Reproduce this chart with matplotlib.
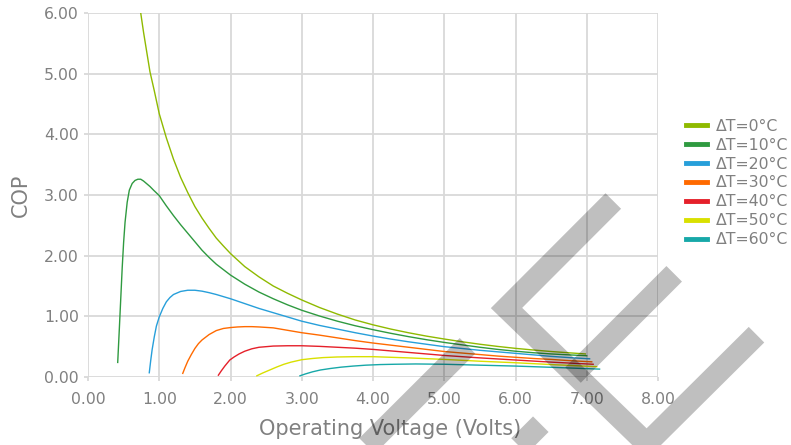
import matplotlib
matplotlib.use("Agg")
import matplotlib.pyplot as plt
from matplotlib.lines import Line2D

# ---- data ----
dt0_v = [0.74, 0.78, 0.82, 0.87, 0.93, 1.00, 1.10, 1.20, 1.30, 1.40, 1.50, 1.60, 1.70, 1.80, 1.90, 2.00, 2.20, 2.40, 2.60, 2.80, 3.00, 3.25, 3.50, 3.75, 4.00, 4.25, 4.50, 4.75, 5.00, 5.25, 5.50, 5.75, 6.00, 6.25, 6.50, 6.75, 6.98]
dt0_c = [6.00, 5.68, 5.39, 5.03, 4.72, 4.34, 3.94, 3.59, 3.29, 3.04, 2.81, 2.62, 2.45, 2.29, 2.16, 2.035, 1.82, 1.65, 1.50, 1.38, 1.27, 1.145, 1.037, 0.94, 0.86, 0.79, 0.729, 0.674, 0.626, 0.581, 0.54, 0.504, 0.472, 0.445, 0.42, 0.399, 0.38]

dt10_v = [0.417, 0.44, 0.46, 0.48, 0.50, 0.52, 0.55, 0.58, 0.62, 0.66, 0.70, 0.74, 0.78, 0.82, 0.87, 0.92, 1.00, 1.10, 1.20, 1.30, 1.40, 1.50, 1.60, 1.70, 1.80, 1.90, 2.00, 2.20, 2.40, 2.60, 2.80, 3.00, 3.25, 3.50, 3.75, 4.00, 4.25, 4.50, 4.75, 5.00, 5.25, 5.50, 5.75, 6.00, 6.25, 6.50, 6.75, 7.00]
dt10_c = [0.24, 0.80, 1.30, 1.80, 2.22, 2.55, 2.88, 3.08, 3.19, 3.24, 3.26, 3.26, 3.23, 3.19, 3.14, 3.08, 2.99, 2.82, 2.66, 2.51, 2.37, 2.23, 2.09, 1.97, 1.86, 1.77, 1.68, 1.53, 1.40, 1.29, 1.19, 1.10, 1.005, 0.92, 0.845, 0.78, 0.72, 0.665, 0.615, 0.57, 0.53, 0.49, 0.455, 0.425, 0.40, 0.38, 0.365, 0.35]

dt20_v = [0.86, 0.88, 0.90, 0.93, 0.96, 1.00, 1.05, 1.10, 1.15, 1.20, 1.30, 1.40, 1.50, 1.60, 1.70, 1.80, 2.00, 2.20, 2.40, 2.60, 2.80, 3.00, 3.25, 3.50, 3.75, 4.00, 4.25, 4.50, 4.75, 5.00, 5.25, 5.50, 5.75, 6.00, 6.25, 6.50, 6.75, 7.04]
dt20_c = [0.07, 0.27, 0.45, 0.66, 0.84, 0.99, 1.13, 1.24, 1.31, 1.36, 1.41, 1.43, 1.43, 1.415, 1.39, 1.36, 1.29, 1.21, 1.13, 1.06, 0.99, 0.92, 0.85, 0.79, 0.73, 0.675, 0.625, 0.58, 0.54, 0.50, 0.47, 0.44, 0.415, 0.39, 0.365, 0.34, 0.32, 0.30]

dt30_v = [1.33, 1.36, 1.40, 1.45, 1.50, 1.55, 1.60, 1.70, 1.80, 1.90, 2.00, 2.10, 2.20, 2.30, 2.40, 2.60, 2.80, 3.00, 3.25, 3.50, 3.75, 4.00, 4.25, 4.50, 4.75, 5.00, 5.25, 5.50, 5.75, 6.00, 6.25, 6.50, 6.75, 7.07]
dt30_c = [0.06, 0.15, 0.26, 0.37, 0.47, 0.55, 0.61, 0.70, 0.765, 0.80, 0.815, 0.825, 0.83, 0.83, 0.825, 0.81, 0.77, 0.73, 0.69, 0.645, 0.60, 0.56, 0.525, 0.49, 0.455, 0.42, 0.395, 0.37, 0.345, 0.325, 0.305, 0.29, 0.27, 0.25]

dt40_v = [1.83, 1.87, 1.92, 1.99, 2.05, 2.12, 2.20, 2.30, 2.40, 2.50, 2.60, 2.80, 3.00, 3.25, 3.50, 3.75, 4.00, 4.25, 4.50, 4.75, 5.00, 5.50, 6.00, 6.50, 7.09]
dt40_c = [0.03, 0.10, 0.18, 0.28, 0.33, 0.38, 0.425, 0.465, 0.49, 0.50, 0.51, 0.515, 0.515, 0.505, 0.49, 0.475, 0.455, 0.43, 0.405, 0.38, 0.355, 0.315, 0.28, 0.245, 0.21]

dt50_v = [2.37, 2.45, 2.55, 2.65, 2.75, 2.85, 3.00, 3.15, 3.30, 3.50, 3.75, 4.00, 4.25, 4.50, 5.00, 5.50, 6.00, 6.50, 7.14]
dt50_c = [0.02, 0.065, 0.115, 0.165, 0.21, 0.245, 0.285, 0.305, 0.32, 0.33, 0.335, 0.335, 0.325, 0.315, 0.29, 0.26, 0.235, 0.205, 0.17]

dt60_v = [2.975, 3.05, 3.15, 3.26, 3.40, 3.55, 3.72, 3.90, 4.10, 4.30, 4.60, 5.00, 5.50, 6.00, 6.50, 7.18]
dt60_c = [0.02, 0.05, 0.085, 0.115, 0.14, 0.162, 0.18, 0.195, 0.205, 0.21, 0.215, 0.21, 0.195, 0.18, 0.16, 0.13]

labels = ["ΔT=0°C", "ΔT=10°C", "ΔT=20°C", "ΔT=30°C", "ΔT=40°C", "ΔT=50°C", "ΔT=60°C"]
colors = ["#8fba00", "#2f9a40", "#279fda", "#ff6a00", "#e5202a", "#d9e000", "#17a8a8"]
series = [(dt0_v, dt0_c), (dt10_v, dt10_c), (dt20_v, dt20_c), (dt30_v, dt30_c),
          (dt40_v, dt40_c), (dt50_v, dt50_c), (dt60_v, dt60_c)]

x_ticks = [0, 1, 2, 3, 4, 5, 6, 7, 8]
y_ticks = [0, 1, 2, 3, 4, 5, 6]

W, H = 791, 445
plt.rcParams['font.family'] = ['DejaVu Sans']
fig = plt.figure(figsize=(W / 100, H / 100), dpi=100)
ax = fig.add_axes([88 / W, 1 - 377 / H, (658 - 88) / W, (377 - 13) / H])

text_col = "#808080"
grid_col = "#d9d9d9"

for (v, c), lab, col in zip(series, labels, colors):
    ax.plot(v, c, color=col, lw=1.0, label=lab, zorder=3, solid_joinstyle='round')

ax.set_xlim(0, 8)
ax.set_ylim(0, 6)
ax.set_xticks(x_ticks)
ax.set_yticks(y_ticks)
ax.set_xticklabels([f"{t:.2f}" for t in x_ticks])
ax.set_yticklabels([f"{t:.2f}" for t in y_ticks])
ax.grid(True, color=grid_col, lw=1.3, zorder=0)
ax.set_axisbelow(True)
for s in ax.spines.values():
    s.set_visible(False)
ax.tick_params(axis='both', colors=grid_col, labelcolor=text_col, labelsize=11.3,
               length=3, width=1.3)
ax.tick_params(axis='x', pad=8)
ax.tick_params(axis='y', pad=3.5)

ax.set_xlabel("Operating Voltage (Volts)", fontsize=15, color=text_col)
ax.set_ylabel("COP", fontsize=15, color=text_col)
ax.xaxis.set_label_coords((390 - 88) / 570, -0.115)
ax.yaxis.set_label_coords(-0.10, 0.5)

handles = [Line2D([0], [0], color=c, lw=3.5) for c in colors]
leg = fig.legend(handles, labels, loc='center left', bbox_to_anchor=(686 / W, 1 - 183 / H),
                 frameon=False, fontsize=11.3, handlelength=1.34, handletextpad=0.55,
                 labelspacing=0.25, borderpad=0, borderaxespad=0)
for t in leg.get_texts():
    t.set_color(text_col)

# ---- watermark (decoration, figure pixel coordinates) ----
def px(points):
    xs = [p[0] / W for p in points]
    ys = [1 - p[1] / H for p in points]
    return xs, ys

strokes = [
    [(613.3, 201.0), (506.5, 308.0), (646.7, 443.7), (756.5, 334.7)],
    [(674.2, 273.8), (573.0, 375.0)],
    [(540.8, 424.2), (500.0, 465.0)],
    [(467.5, 345.8), (360.0, 453.0)],
]
for st in strokes:
    xs, ys = px(st)
    fig.add_artist(Line2D(xs, ys, transform=fig.transFigure, color="black", alpha=0.25,
                          lw=22 * 72 / 100, solid_capstyle='butt', solid_joinstyle='miter',
                          zorder=10))

fig.savefig("out.png", dpi=100)
